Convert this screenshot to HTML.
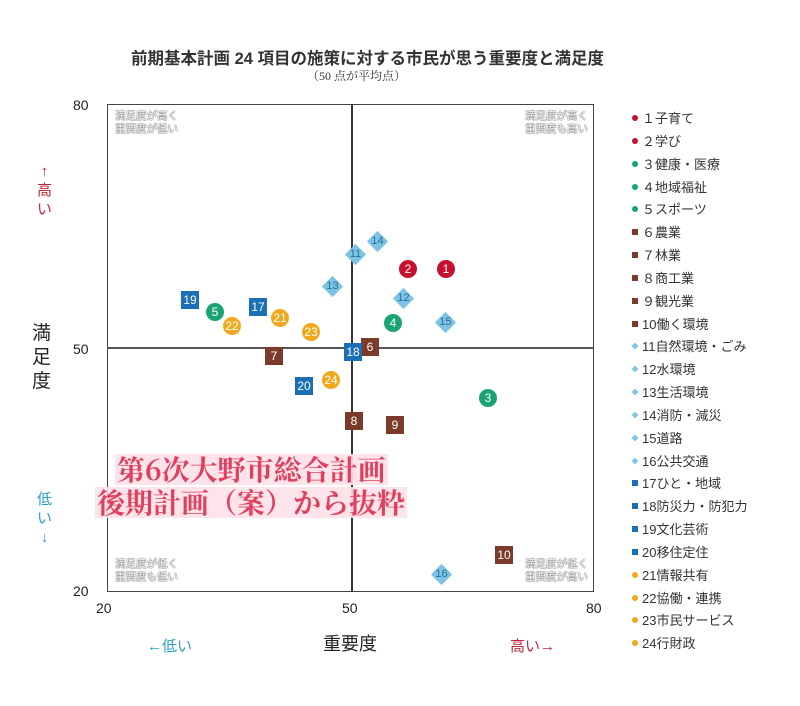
<!DOCTYPE html>
<html><head><meta charset="utf-8"><style>
body{margin:0;width:800px;height:706px;background:#fff;position:relative;overflow:hidden;font-family:"Liberation Sans","Noto Sans CJK JP",sans-serif;color:#222}
.a{position:absolute;white-space:nowrap}
.m{position:absolute;width:18px;height:18px;margin:-9px 0 0 -9px;color:#fff;font-size:12px;line-height:18px;text-align:center;font-family:"Liberation Sans",sans-serif}
.c{border-radius:50%}
.d{width:15px;height:15px;margin:-7.5px 0 0 -7.5px;background:#7cc3e6;transform:rotate(45deg)}
.d span{display:block;transform:rotate(-45deg);color:#2a6f95;font-size:11px;line-height:15px}
.q{font-size:10.5px;color:#fff;line-height:13px;text-shadow:0 0 1px #666,0 0 1px #666,0 0 1px #666}
.lg{position:absolute;left:632px;font-size:13px;color:#333}
.lg i{display:inline-block;width:6px;height:6px;margin-right:4px;vertical-align:2px}
.ov{font-family:"Noto Serif CJK SC","Liberation Serif",serif;font-weight:bold;font-size:28px;color:#e0405e;background:rgba(252,225,232,.9);line-height:31px;padding:0 2px}
</style></head><body>
<div class="a" style="left:131px;top:45px;font-size:16.5px;font-weight:bold;color:#333">前期基本計画 24 項目の施策に対する市民が思う重要度と満足度</div>
<div class="a" style="left:307px;top:67px;font-size:12px;color:#333;font-family:'Liberation Serif','Noto Serif CJK SC',serif">（50 点が平均点）</div>
<div class="a" style="left:107px;top:104px;width:485px;height:486px;border:1.5px solid #444"></div>
<div class="a" style="left:351px;top:104px;width:1.5px;height:488px;background:#333"></div>
<div class="a" style="left:107px;top:347px;width:487px;height:1.5px;background:#555"></div>
<div class="a" style="left:73px;top:97px;font-size:14px">80</div>
<div class="a" style="left:73px;top:341px;font-size:14px">50</div>
<div class="a" style="left:73px;top:583px;font-size:14px">20</div>
<div class="a" style="left:96px;top:600px;font-size:14px">20</div>
<div class="a" style="left:342px;top:600px;font-size:14px">50</div>
<div class="a" style="left:586px;top:600px;font-size:14px">80</div>
<div class="a" style="left:37px;top:162px;font-size:15px;color:#c0283a;line-height:19px;text-align:center">↑<br>高<br>い</div>
<div class="a" style="left:37px;top:490px;font-size:15px;color:#2aa0c8;line-height:19px;text-align:center">低<br>い<br>↓</div>
<div class="a" style="left:32px;top:322px;font-size:19px;line-height:24px">満<br>足<br>度</div>
<div class="a" style="left:323px;top:630px;font-size:18px">重要度</div>
<div class="a" style="left:147px;top:635px;font-size:15px;color:#2aa0c8">←低い</div>
<div class="a" style="left:510px;top:635px;font-size:15px;color:#c0283a">高い→</div>
<div class="a q" style="left:115px;top:110px">満足度が高く<br>重要度が低い</div>
<div class="a q" style="left:525px;top:110px">満足度が高く<br>重要度も高い</div>
<div class="a q" style="left:115px;top:558px">満足度が低く<br>重要度も低い</div>
<div class="a q" style="left:525px;top:558px">満足度が低く<br>重要度が高い</div>

<div class="m c" style="left:446px;top:269px;background:#c8102e">1</div>
<div class="m c" style="left:408px;top:269px;background:#c8102e">2</div>
<div class="m c" style="left:488px;top:398px;background:#1aa374">3</div>
<div class="m c" style="left:393px;top:323px;background:#1aa374">4</div>
<div class="m c" style="left:215px;top:312px;background:#1aa374">5</div>
<div class="m" style="left:370px;top:347px;background:#7b3a2a">6</div>
<div class="m" style="left:274px;top:356px;background:#7b3a2a">7</div>
<div class="m" style="left:354px;top:421px;background:#7b3a2a">8</div>
<div class="m" style="left:395px;top:425px;background:#7b3a2a">9</div>
<div class="m" style="left:504px;top:555px;background:#7b3a2a">10</div>
<div class="m d" style="left:355px;top:254px"><span>11</span></div>
<div class="m d" style="left:403px;top:298px"><span>12</span></div>
<div class="m d" style="left:332px;top:286px"><span>13</span></div>
<div class="m d" style="left:377px;top:241px"><span>14</span></div>
<div class="m d" style="left:445px;top:322px"><span>15</span></div>
<div class="m d" style="left:441px;top:574px"><span>16</span></div>
<div class="m" style="left:258px;top:307px;background:#1a6fb5">17</div>
<div class="m" style="left:353px;top:352px;background:#1a6fb5">18</div>
<div class="m" style="left:190px;top:300px;background:#1a6fb5">19</div>
<div class="m" style="left:304px;top:386px;background:#1a6fb5">20</div>
<div class="m c" style="left:280px;top:318px;background:#f0a81c">21</div>
<div class="m c" style="left:232px;top:326px;background:#f0a81c">22</div>
<div class="m c" style="left:311px;top:332px;background:#f0a81c">23</div>
<div class="m c" style="left:331px;top:380px;background:#f0a81c">24</div>

<div class="a ov" style="left:115px;top:454px">第6次大野市総合計画</div>
<div class="a ov" style="left:95px;top:487px">後期計画（案）から抜粋</div>

<div class="lg" style="top:108px"><i style="background:#c8102e;border-radius:50%"></i>１子育て</div>
<div class="lg" style="top:131px"><i style="background:#c8102e;border-radius:50%"></i>２学び</div>
<div class="lg" style="top:154px"><i style="background:#1aa374;border-radius:50%"></i>３健康・医療</div>
<div class="lg" style="top:177px"><i style="background:#1aa374;border-radius:50%"></i>４地域福祉</div>
<div class="lg" style="top:199px"><i style="background:#1aa374;border-radius:50%"></i>５スポーツ</div>
<div class="lg" style="top:222px"><i style="background:#7b3a2a"></i>６農業</div>
<div class="lg" style="top:245px"><i style="background:#7b3a2a"></i>７林業</div>
<div class="lg" style="top:268px"><i style="background:#7b3a2a"></i>８商工業</div>
<div class="lg" style="top:291px"><i style="background:#7b3a2a"></i>９観光業</div>
<div class="lg" style="top:314px"><i style="background:#7b3a2a"></i>10働く環境</div>
<div class="lg" style="top:336px"><i style="background:#7cc3e6;transform:rotate(45deg) scale(.8)"></i>11自然環境・ごみ</div>
<div class="lg" style="top:359px"><i style="background:#7cc3e6;transform:rotate(45deg) scale(.8)"></i>12水環境</div>
<div class="lg" style="top:382px"><i style="background:#7cc3e6;transform:rotate(45deg) scale(.8)"></i>13生活環境</div>
<div class="lg" style="top:405px"><i style="background:#7cc3e6;transform:rotate(45deg) scale(.8)"></i>14消防・減災</div>
<div class="lg" style="top:428px"><i style="background:#7cc3e6;transform:rotate(45deg) scale(.8)"></i>15道路</div>
<div class="lg" style="top:451px"><i style="background:#7cc3e6;transform:rotate(45deg) scale(.8)"></i>16公共交通</div>
<div class="lg" style="top:473px"><i style="background:#1a6fb5"></i>17ひと・地域</div>
<div class="lg" style="top:496px"><i style="background:#1a6fb5"></i>18防災力・防犯力</div>
<div class="lg" style="top:519px"><i style="background:#1a6fb5"></i>19文化芸術</div>
<div class="lg" style="top:542px"><i style="background:#1a6fb5"></i>20移住定住</div>
<div class="lg" style="top:565px"><i style="background:#f0a81c;border-radius:50%"></i>21情報共有</div>
<div class="lg" style="top:588px"><i style="background:#f0a81c;border-radius:50%"></i>22協働・連携</div>
<div class="lg" style="top:610px"><i style="background:#f0a81c;border-radius:50%"></i>23市民サービス</div>
<div class="lg" style="top:633px"><i style="background:#f0a81c;border-radius:50%"></i>24行財政</div>
</body></html>
